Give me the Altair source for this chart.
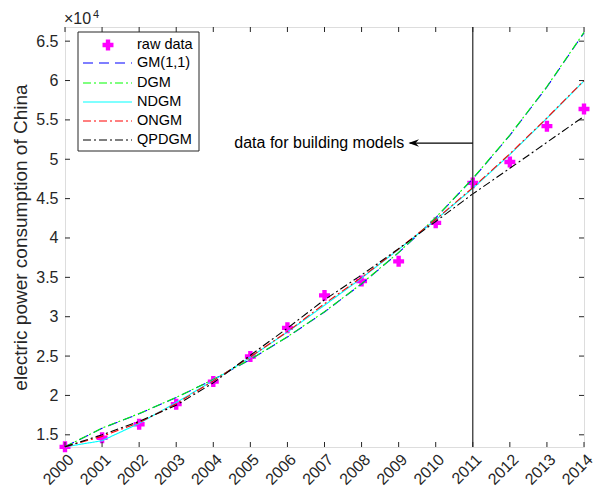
import altair as alt
import pandas as pd

# ---------------- data ----------------
years = list(range(2000, 2015))
raw_data = [13472, 14633, 16332, 18891, 21761, 24940, 28588, 32712, 34541, 37032,
            41923, 47001, 49657, 54203, 56384]
gm11 = [13472, 15830, 17670, 19730, 22010, 24560, 27420, 30600, 34160, 38130,
        42560, 47510, 53030, 59180, 66060]
dgm = [13472, 15850, 17700, 19750, 22040, 24590, 27450, 30640, 34200, 38170,
       42600, 47560, 53080, 59240, 66130]
ndgm = [13472, 14250, 16450, 19100, 21900, 24850, 28050, 31450, 34900, 38550,
        42300, 46300, 50600, 55200, 59950]
ongm = [13472, 14800, 16550, 18950, 21850, 24900, 28100, 31650, 35000, 38600,
        42350, 46400, 50700, 55250, 60000]
qpdgm = [13472, 15000, 16700, 18750, 21600, 25100, 28550, 32150, 35300, 38650,
         42100, 45600, 48850, 52150, 55450]

series_names = ["GM(1,1)", "DGM", "NDGM", "ONGM", "QPDGM"]
series_values = [gm11, dgm, ndgm, ongm, qpdgm]
series_colors = ["#0000ff", "#00ff00", "#00ffff", "#ff0000", "#000000"]
series_dash = [[10, 6], [8, 3, 2, 3], [1, 0], [8, 3, 2, 3], [8, 3, 2, 3]]
raw_label = "raw data"

y_ticks = [15000, 20000, 25000, 30000, 35000, 40000, 45000, 50000, 55000, 60000, 65000]
x_ticks = years
y_domain = [13450, 66800]
x_domain = [2000, 2014]

split_year = 2011
annot_text = "data for building models"
annot_value = 52060
annot_arrow_end = 2009.3
annot_text_x = 2009.15

# ---------------- layout ----------------
W, H = 519, 420
FONT = "Liberation Sans"
AX = "#262626"
TICK = 5

raw_df = pd.DataFrame({"year": years, "value": raw_data})
line_df = pd.DataFrame(
    [{"series": n, "year": y, "value": v}
     for n, vals in zip(series_names, series_values)
     for y, v in zip(years, vals)]
)

xs = alt.Scale(domain=x_domain, nice=False, zero=False)
ys = alt.Scale(domain=y_domain, nice=False, zero=False)
x_axis = alt.Axis(values=x_ticks, format="d", labelAngle=-45, labelAlign="right",
                  labelBaseline="top", labelPadding=4, grid=False, domain=False,
                  ticks=False, labelFontSize=16, labelColor=AX, labelFont=FONT,
                  labelOverlap=False, title=None)
y_axis = alt.Axis(values=y_ticks, labelExpr="format(datum.value/10000, '')",
                  grid=False, domain=False, ticks=False, labelFontSize=16,
                  labelColor=AX, labelFont=FONT, labelPadding=7,
                  title="electric power consumption of China", titleFontSize=19,
                  titleFont=FONT, titleFontWeight="normal", titleColor=AX,
                  titlePadding=5)
X = alt.X("year:Q", scale=xs, axis=x_axis)
Y = alt.Y("value:Q", scale=ys, axis=y_axis)

layers = []

# raw data points
layers.append(
    alt.Chart(raw_df).mark_point(shape="cross", filled=True, size=120,
                                 color="#ff00ff", opacity=1)
    .encode(x=X, y=Y)
)

# model lines
for n, c, d in zip(series_names, series_colors, series_dash):
    layers.append(
        alt.Chart(line_df[line_df.series == n]).mark_line(
            color=c, strokeWidth=1.1, strokeDash=d)
        .encode(x=X, y=Y)
    )

# split line
split_df = pd.DataFrame({"year": [split_year]})
layers.append(
    alt.Chart(split_df).mark_rule(color=AX, strokeWidth=1.2)
    .encode(x=X, y=alt.value(0), y2=alt.value(H))
)

# annotation arrow
arrow_df = pd.DataFrame({"year": [split_year], "year2": [annot_arrow_end],
                         "value": [annot_value]})
layers.append(
    alt.Chart(arrow_df).mark_rule(color="#000000", strokeWidth=1.2)
    .encode(x=X, x2="year2:Q", y=Y)
)
head_df = pd.DataFrame({"year": [annot_arrow_end], "value": [annot_value]})
layers.append(
    alt.Chart(head_df).mark_point(
        shape="M -1 0 L 1 -0.7 L 0.35 0 L 1 0.7 Z", filled=True, size=110,
        color="#000000", opacity=1, xOffset=4)
    .encode(x=X, y=Y)
)
text_df = pd.DataFrame({"year": [annot_text_x], "value": [annot_value]})
layers.append(
    alt.Chart(text_df).mark_text(text=annot_text, align="right", baseline="middle",
                                 font=FONT, fontSize=16, color="#000000")
    .encode(x=X, y=Y)
)

# inward ticks
ytick_df = pd.DataFrame({"value": y_ticks})
xtick_df = pd.DataFrame({"year": x_ticks})
layers.append(alt.Chart(ytick_df).mark_rule(color=AX, strokeWidth=1)
              .encode(y=Y, x=alt.value(0), x2=alt.value(TICK)))
layers.append(alt.Chart(ytick_df).mark_rule(color=AX, strokeWidth=1)
              .encode(y=Y, x=alt.value(W - TICK), x2=alt.value(W)))
layers.append(alt.Chart(xtick_df).mark_rule(color=AX, strokeWidth=1)
              .encode(x=X, y=alt.value(H), y2=alt.value(H - TICK)))
layers.append(alt.Chart(xtick_df).mark_rule(color=AX, strokeWidth=1)
              .encode(x=X, y=alt.value(0), y2=alt.value(TICK)))

# exponent label
layers.append(alt.Chart(split_df).mark_text(text="×10", align="left", baseline="middle",
                                            font=FONT, fontSize=16, color=AX)
              .encode(x=alt.value(-1), y=alt.value(-8)))
layers.append(alt.Chart(split_df).mark_text(text="4", align="left", baseline="middle",
                                            font=FONT, fontSize=11, color=AX)
              .encode(x=alt.value(28), y=alt.value(-12)))

# legend
LX0, LX1, LY0, LY1 = 13, 134, 5, 124
layers.append(alt.Chart(split_df).mark_rect(fill="#ffffff", stroke=AX, strokeWidth=1)
              .encode(x=alt.value(LX0), x2=alt.value(LX1),
                      y=alt.value(LY0), y2=alt.value(LY1)))
row_y = [18, 36, 56, 75, 94, 113]
layers.append(alt.Chart(split_df).mark_point(shape="cross", filled=True, size=120,
                                             color="#ff00ff", opacity=1)
              .encode(x=alt.value(43), y=alt.value(row_y[0])))
layers.append(alt.Chart(split_df).mark_text(text=raw_label, align="left",
                                            baseline="middle", font=FONT,
                                            fontSize=14.5, color="#000000")
              .encode(x=alt.value(72), y=alt.value(row_y[0])))
for i, (n, c, d) in enumerate(zip(series_names, series_colors, series_dash)):
    ry = row_y[i + 1]
    layers.append(alt.Chart(split_df).mark_rule(color=c, strokeWidth=1.1, strokeDash=d)
                  .encode(x=alt.value(18), x2=alt.value(67), y=alt.value(ry)))
    layers.append(alt.Chart(split_df).mark_text(text=n, align="left",
                                                baseline="middle", font=FONT,
                                                fontSize=14.5, color="#000000")
                  .encode(x=alt.value(72), y=alt.value(ry)))

chart = alt.layer(*layers).properties(
    width=W, height=H,
    autosize=alt.AutoSizeParams(type="none"),
    padding={"left": 57, "top": 19, "right": 13, "bottom": 42},
).configure_view(stroke=AX, strokeWidth=1.2).configure(background="#ffffff")

chart.save("out.html", embed_options={"renderer": "svg", "actions": False})
